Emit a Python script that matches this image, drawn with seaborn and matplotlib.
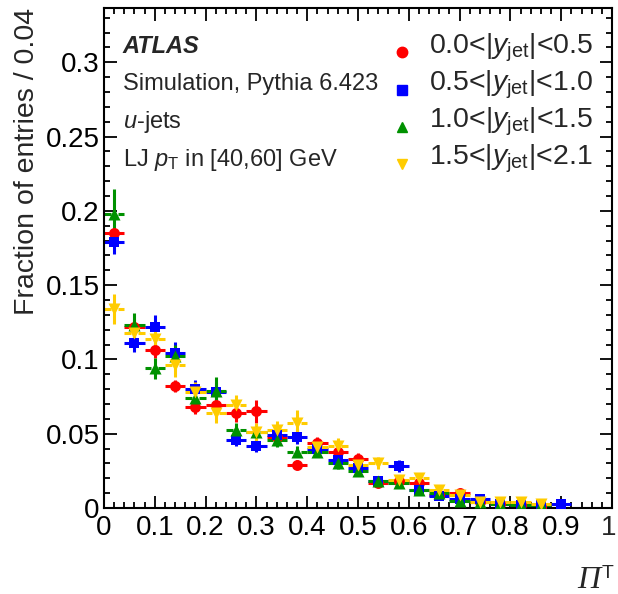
import numpy as np
import pandas as pd
import matplotlib
matplotlib.use("Agg")
import matplotlib.pyplot as plt
import matplotlib.transforms as mtransforms
from matplotlib.lines import Line2D
from matplotlib.legend_handler import HandlerLine2D
from matplotlib.ticker import MultipleLocator, FuncFormatter
import seaborn as sns

# Bin centres of the Pi^T histogram (bin width 0.04)
bin_centers = [0.02, 0.06, 0.10, 0.14, 0.18, 0.22, 0.26, 0.30, 0.34, 0.38, 0.42, 0.46,
               0.50, 0.54, 0.58, 0.62, 0.66, 0.70, 0.74, 0.78, 0.82, 0.86, 0.90]
bin_half_width = 0.02

# Fraction of entries per bin for each |y_jet| slice (nan = empty bin)
frac_y00_05 = [0.185, 0.122, 0.106, 0.082, 0.068, 0.069, 0.064, 0.065, 0.048, 0.029, 0.044, 0.038,
               0.033, 0.017, 0.018, 0.017, 0.009, 0.010, 0.004, 0.003, 0.002, 0.001, np.nan]
frac_y05_10 = [0.179, 0.111, 0.122, 0.104, 0.080, 0.078, 0.046, 0.042, 0.049, 0.048, 0.040, 0.032,
               0.027, 0.018, 0.028, 0.012, 0.008, 0.006, 0.006, 0.003, 0.002, 0.002, 0.003]
frac_y10_15 = [0.198, 0.123, 0.094, 0.102, 0.074, 0.079, 0.0525, 0.051, 0.046, 0.038, 0.038, 0.030,
               0.025, 0.018, 0.017, 0.012, 0.010, 0.005, 0.004, 0.003, 0.002, 0.002, np.nan]
frac_y15_21 = [0.134, 0.118, 0.114, 0.096, 0.078, 0.064, 0.069, 0.051, 0.0525, 0.057, 0.041, 0.042,
               0.029, 0.030, 0.019, 0.020, 0.012, 0.0087, 0.0043, 0.0043, 0.0043, 0.003, np.nan]

# Statistical uncertainties per bin
err_y00_05 = [0.003, 0.005, 0.005, 0.004, 0.005, 0.005, 0.006, 0.008, 0.005, 0.003, 0.004, 0.004,
              0.004, 0.003, 0.003, 0.003, 0.002, 0.002, 0.001, 0.001, 0.001, 0.001, np.nan]
err_y05_10 = [0.008, 0.006, 0.008, 0.008, 0.006, 0.006, 0.004, 0.004, 0.005, 0.005, 0.004, 0.004,
              0.003, 0.003, 0.004, 0.002, 0.002, 0.002, 0.001, 0.001, 0.001, 0.001, 0.001]
err_y10_15 = [0.017, 0.008, 0.007, 0.008, 0.007, 0.009, 0.005, 0.005, 0.005, 0.004, 0.004, 0.004,
              0.003, 0.003, 0.003, 0.002, 0.002, 0.002, 0.001, 0.001, 0.001, 0.001, np.nan]
err_y15_21 = [0.010, 0.007, 0.007, 0.008, 0.007, 0.007, 0.007, 0.006, 0.006, 0.009, 0.005, 0.005,
              0.004, 0.004, 0.003, 0.003, 0.002, 0.002, 0.001, 0.001, 0.001, 0.001, np.nan]

labels = [r"0.0<|$y_{\rm jet}$|<0.5", r"0.5<|$y_{\rm jet}$|<1.0",
          r"1.0<|$y_{\rm jet}$|<1.5", r"1.5<|$y_{\rm jet}$|<2.1"]
series = [frac_y00_05, frac_y05_10, frac_y10_15, frac_y15_21]
errors = [err_y00_05, err_y05_10, err_y10_15, err_y15_21]
colors = ["#ff0000", "#0000ff", "#009100", "#ffcc00"]
markers = ["o", "s", "^", "v"]
sizes = [62, 52, 75, 75]

sns.set_style("ticks")
plt.rcParams["font.family"] = ["Liberation Sans", "DejaVu Sans"]
plt.rcParams["mathtext.fontset"] = "custom"
plt.rcParams["mathtext.rm"] = "Liberation Sans"
plt.rcParams["mathtext.it"] = "Liberation Sans:italic"
plt.rcParams["mathtext.bf"] = "Liberation Sans:bold"

frames = []
for lab, vals, errs in zip(labels, series, errors):
    frames.append(pd.DataFrame({"pi_t": bin_centers, "frac": vals, "err": errs, "slice": lab}))
df = pd.concat(frames, ignore_index=True)

fig = plt.figure(figsize=(6.18, 5.94), dpi=100)
ax = fig.add_axes([104 / 618, 1 - 508 / 594, 508 / 618, 500 / 594])

gap = 0.007
for lab, col, mk, sz in zip(labels, colors, markers, sizes):
    d = df[(df["slice"] == lab) & df["frac"].notna()]
    x = d["pi_t"].to_numpy()
    y = d["frac"].to_numpy()
    e = d["err"].to_numpy()
    # horizontal bin-width bars, interrupted around the marker
    ax.hlines(y, x - bin_half_width, x - gap, color=col, lw=2.2, zorder=2)
    ax.hlines(y, x + gap, x + bin_half_width, color=col, lw=2.2, zorder=2)
    ax.vlines(x, y - e, y + e, color=col, lw=2.2, zorder=2)
    sns.scatterplot(data=d, x="pi_t", y="frac", color=col, marker=mk, s=sz,
                    linewidth=0, ax=ax, zorder=3, legend=False)

ax.set_xlim(0, 1)
ax.set_ylim(0, 0.3365)
ax.xaxis.set_major_locator(MultipleLocator(0.1))
ax.xaxis.set_minor_locator(MultipleLocator(0.02))
ax.yaxis.set_major_locator(MultipleLocator(0.05))
ax.yaxis.set_minor_locator(MultipleLocator(0.01))
# the label at x = 1 is drawn separately so that it stays inside the canvas
xfmt = FuncFormatter(lambda v, p: "" if abs(v - 1) < 1e-9 else "%g" % round(v, 3))
yfmt = FuncFormatter(lambda v, p: "%g" % round(v, 3))
ax.xaxis.set_major_formatter(xfmt)
ax.yaxis.set_major_formatter(yfmt)
ax.tick_params(which="both", direction="in", top=True, right=True, width=1.3,
               labelsize=20, colors="black")
ax.tick_params(which="major", length=9)
ax.tick_params(which="minor", length=4.5)
ax.tick_params(axis="x", pad=5)
ax.tick_params(axis="y", pad=3)
for sp in ax.spines.values():
    sp.set_linewidth(1.5)
    sp.set_color("black")

ax.text(1.0, 0.0, "1", fontsize=20, ha="center", va="top",
        transform=ax.get_xaxis_transform() +
        mtransforms.ScaledTranslation(-3 / 100, -5 / 72, fig.dpi_scale_trans))

ax.set_xlabel("")
ax.set_ylabel("Fraction of entries / 0.04", fontsize=20.5, loc="top", labelpad=4)

# x-axis title: italic Pi with superscript T
fig.text(600 / 618, 1 - 588 / 594, "\u03a0", fontsize=23, ha="right", va="baseline",
         family="Liberation Serif", style="italic")
fig.text(602 / 618, 1 - 578 / 594, "T", fontsize=14, ha="left", va="baseline")

ax.text(0.037, 0.91, "ATLAS", transform=ax.transAxes, fontsize=17,
        fontweight="bold", fontstyle="italic", va="baseline")
ax.text(0.037, 0.836, "Simulation, Pythia 6.423", transform=ax.transAxes,
        fontsize=17, va="baseline")
ax.text(0.037, 0.76, r"$u$-jets", transform=ax.transAxes, fontsize=17, va="baseline")
ax.text(0.037, 0.684, r"LJ $p_{\rm T}$ in [40,60] GeV", transform=ax.transAxes,
        fontsize=17, va="baseline")


class LoweredMarker(HandlerLine2D):
    """Legend key whose marker sits near the text baseline."""

    def create_artists(self, legend, orig_handle, xdescent, ydescent, width, height,
                       fontsize, trans):
        arts = super().create_artists(legend, orig_handle, xdescent, ydescent, width,
                                      height, fontsize, trans)
        for a in arts:
            a.set_ydata(np.asarray(a.get_ydata(), dtype=float) - 6.5)
        return arts


handles = [Line2D([], [], ls="none", marker=mk, color=col, markersize=7.5)
           for col, mk in zip(colors, markers)]
leg = ax.legend(handles, labels, loc="upper right", bbox_to_anchor=(0.963, 0.953),
                frameon=False, fontsize=20.5, handlelength=0.8, handletextpad=0.55,
                labelspacing=0.17, borderaxespad=0.0, borderpad=0.0,
                handler_map={Line2D: LoweredMarker()})

fig.savefig("out.png", dpi=100)
